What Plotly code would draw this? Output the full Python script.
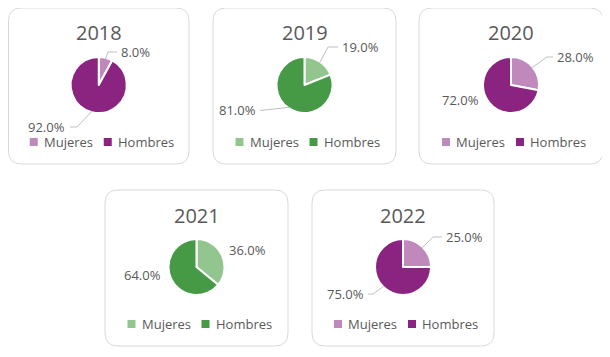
import math
import plotly.graph_objects as go

# ---------------- data ----------------
years = ["2018", "2019", "2020", "2021", "2022"]
categories = ["Mujeres", "Hombres"]
mujeres = [8.0, 19.0, 28.0, 36.0, 25.0]
hombres = [92.0, 81.0, 72.0, 64.0, 75.0]
purple_colors = ["#BF89BC", "#8B2381"]
green_colors = ["#93C68E", "#469A45"]
panel_colors = [purple_colors, green_colors, purple_colors, green_colors, purple_colors]

# ---------------- layout constants (page pixels) ----------------
OFF = 8                      # default body margin of the html page
W, H = 610 - OFF, 357 - OFF  # figure size
FONT = "Open Sans"
TEXT = "#595959"
panels = [(8.5, 7, 189, 164), (213, 7, 396, 164), (419, 7, 603, 164),
          (105, 189, 288, 346), (312, 189, 494, 346)]
R = 28
# label placement: (x, y, anchor, bend points for leader line or None)
label_pos = [
    [(119, 52, "left", [(108, 52), (117, 52)]), (67, 127, "right", [(77, 127), (70, 127)])],
    [(340, 47, "left", [(328, 47), (338, 47)]), (258, 110, "right", [(260, 110.5)])],
    [(555, 57, "left", [(547, 57), (553, 57)]), (481, 100, "right", None)],
    [(227, 250, "left", None), (163, 275, "right", None)],
    [(444, 237, "left", [(433, 237), (442, 237)]), (366, 294, "right", [(373, 294), (368, 294)])],
]


def px(x, y):
    return (x - OFF) / W, 1 - (y - OFF) / H


fig = go.Figure()
shapes = []
annotations = []

for i, year in enumerate(years):
    x0, y0, x1, y1 = panels[i]
    cx = (x0 + x1) / 2
    cy = y0 + 78
    cols = panel_colors[i]
    vals = [mujeres[i], hombres[i]]

    # rounded panel border
    rc = 13
    rx, ry = rc / W, rc / H
    X0, Y1p = px(x0, y0 + 1)
    X1, Y0p = px(x1, y1)
    path = (f"M{X0+rx},{Y1p} L{X1-rx},{Y1p} Q{X1},{Y1p} {X1},{Y1p-ry} "
            f"L{X1},{Y0p+ry} Q{X1},{Y0p} {X1-rx},{Y0p} L{X0+rx},{Y0p} "
            f"Q{X0},{Y0p} {X0},{Y0p+ry} L{X0},{Y1p-ry} Q{X0},{Y1p} {X0+rx},{Y1p} Z")
    shapes.append(dict(type="path", xref="paper", yref="paper", path=path,
                       line=dict(color="#D9D9D9", width=1), fillcolor="white", layer="below"))

    # pie
    dx0, dy1 = px(cx - R, cy - R)
    dx1, dy0 = px(cx + R, cy + R)
    fig.add_trace(go.Pie(
        labels=categories, values=vals, sort=False, direction="clockwise", rotation=0,
        marker=dict(colors=cols, line=dict(color="white", width=2)),
        textinfo="none", hoverinfo="label+value", showlegend=False,
        domain=dict(x=[dx0, dx1], y=[dy0, dy1]),
    ))

    # title
    tx, ty = px(cx, y0 + 26)
    annotations.append(dict(x=tx, y=ty, xref="paper", yref="paper", text=year, showarrow=False,
                            xanchor="center", yanchor="middle",
                            font=dict(family=FONT, size=20, color=TEXT)))

    # data labels + leader lines
    total = sum(vals)
    cum = 0
    for j, v in enumerate(vals):
        mid = (cum + v / 2) / total * 2 * math.pi
        cum += v
        lx, ly, anchor, bends = label_pos[i][j]
        lxp, lyp = px(lx, ly)
        annotations.append(dict(x=lxp, y=lyp, xref="paper", yref="paper",
                                text=f"{v / total * 100:.1f}%", showarrow=False,
                                xanchor=anchor, yanchor="middle",
                                font=dict(family=FONT, size=13, color=TEXT)))
        if bends:
            sx = cx + (R - 1) * math.sin(mid)
            sy = cy - (R - 1) * math.cos(mid)
            pts = [(sx, sy)] + bends
            p = "M" + " L".join(f"{px(a, b)[0]},{px(a, b)[1]}" for a, b in pts)
            shapes.append(dict(type="path", xref="paper", yref="paper", path=p,
                               line=dict(color="#BFBFBF", width=1)))

    # legend (manual)
    ly = y0 + 135
    for j, (mx, tx_off) in enumerate([(-65, -57), (9, 17)]):
        s = 4
        a0, b1 = px(cx + mx - s, ly - s)
        a1, b0 = px(cx + mx + s, ly + s)
        shapes.append(dict(type="rect", xref="paper", yref="paper", x0=a0, x1=a1, y0=b0, y1=b1,
                           fillcolor=cols[j], line=dict(width=0)))
        tpx, tpy = px(cx + tx_off, ly)
        annotations.append(dict(x=tpx, y=tpy, xref="paper", yref="paper", text=categories[j],
                                showarrow=False, xanchor="left", yanchor="middle",
                                font=dict(family=FONT, size=13, color=TEXT)))

fig.update_layout(
    width=W, height=H, margin=dict(l=0, r=0, t=0, b=0),
    paper_bgcolor="white", plot_bgcolor="white",
    shapes=shapes, annotations=annotations,
    font=dict(family=FONT, color=TEXT),
)

fig.write_html("out.html")
